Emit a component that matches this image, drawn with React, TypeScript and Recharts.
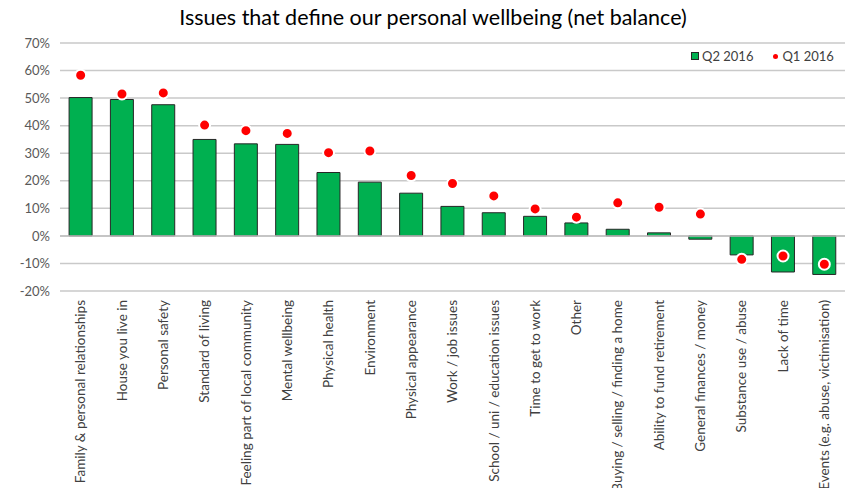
import { ComposedChart, Bar, Line, XAxis, YAxis, CartesianGrid, ReferenceLine } from "recharts";

const categories = [
  "Family & personal relationships",
  "House you live in",
  "Personal safety",
  "Standard of living",
  "Feeling part of local community",
  "Mental wellbeing",
  "Physical health",
  "Environment",
  "Physical appearance",
  "Work / job issues",
  "School / uni / education issues",
  "Time to get to work",
  "Other",
  "Buying / selling / finding a home",
  "Ability to fund retirement",
  "General finances / money",
  "Substance use / abuse",
  "Lack of time",
  "Events (e.g. abuse, victimisation)",
];

const q2_2016 = [50.2, 49.5, 47.6, 35, 33.4, 33.2, 23, 19.5, 15.5, 10.7, 8.4, 7.1, 4.7, 2.4, 1.1, -1.2, -6.9, -13.1, -14];
const q1_2016 = [58.3, 51.5, 51.9, 40.2, 38.2, 37.2, 30.2, 30.8, 21.9, 19, 14.5, 9.8, 6.8, 12, 10.4, 7.9, -8.5, -7.3, -10.3];

const yTicks = [-20, -10, 0, 10, 20, 30, 40, 50, 60, 70];

const data = categories.map((name, i) => ({ name, q2: q2_2016[i], q1: q1_2016[i] }));

const FONT = "Lato, 'Open Sans', sans-serif";

function CategoryTick(props: any) {
  const { x, y, payload } = props;
  return (
    <text
      transform={`translate(${x},${y + 9}) rotate(-90)`}
      textAnchor="end"
      dy="0.35em"
      fontSize={13.5}
      fill="#404040"
      fontFamily={FONT}
    >
      {payload.value}
    </text>
  );
}

export default function App() {
  return (
    <div style={{ position: "absolute", left: 0, top: 0, width: 850, height: 488, background: "#fff" }}>
      <div
        style={{
          position: "absolute",
          top: 4,
          left: 8,
          width: 850,
          textAlign: "center",
          fontFamily: FONT,
          fontSize: 21.5,
          color: "#000",
        }}
      >
        Issues that define our personal wellbeing (net balance)
      </div>
      <div
        style={{
          position: "absolute",
          top: 48,
          left: 691,
          display: "flex",
          alignItems: "center",
          fontFamily: FONT,
          fontSize: 13,
          color: "#404040",
          zIndex: 2,
        }}
      >
        <span style={{ width: 6, height: 6, background: "#00B050", border: "1px solid #262626", marginRight: 3 }} />
        <span>Q2 2016</span>
        <span style={{ width: 5, height: 5, borderRadius: "50%", background: "#FF0000", marginLeft: 20, marginRight: 4 }} />
        <span>Q1 2016</span>
      </div>
      <ComposedChart
        width={850}
        height={488}
        data={data}
        margin={{ top: 43, right: 5, left: 0, bottom: 0 }}
        barCategoryGap="22%"
      >
        <CartesianGrid vertical={false} stroke="#c9c9c9" strokeWidth={1.5} />
        <XAxis
          dataKey="name"
          interval={0}
          height={197}
          axisLine={false}
          tickLine={false}
          tickSize={0}
          tickMargin={0}
          tick={<CategoryTick />}
        />
        <YAxis
          domain={[-20, 70]}
          ticks={yTicks}
          width={60}
          axisLine={false}
          tickLine={false}
          tickMargin={4}
          tickFormatter={(v: number) => `${v}%`}
          tick={{ fontSize: 13, fill: "#595959", fontFamily: FONT }}
        />
        <ReferenceLine y={0} stroke="#bfbfbf" strokeWidth={1.5} />
        <Bar dataKey="q2" name="Q2 2016" fill="#00B050" stroke="#262626" strokeWidth={1} isAnimationActive={false} />
        <Line
          dataKey="q1"
          name="Q1 2016"
          stroke="none"
          dot={{ r: 5.5, fill: "#FF0000", stroke: "#ffffff", strokeWidth: 2 }}
          activeDot={false}
          isAnimationActive={false}
        />
      </ComposedChart>
    </div>
  );
}
